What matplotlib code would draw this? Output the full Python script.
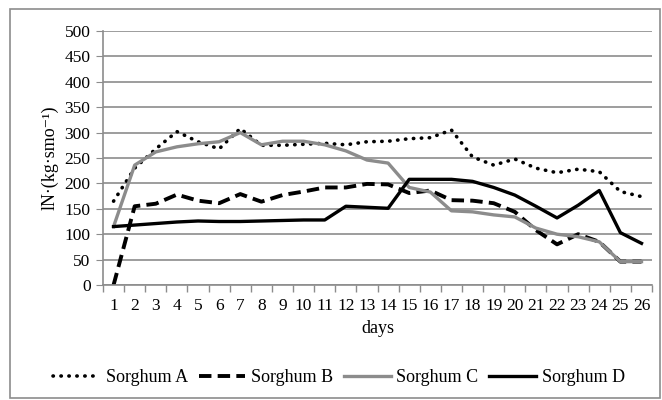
import numpy as np
import matplotlib.pyplot as plt
from matplotlib.patches import Rectangle

plt.rcParams['font.family'] = ['Liberation Serif', 'DejaVu Serif']

# data
days = list(range(1, 27))
sorghum_a = [165, 230, 268, 302, 282, 268, 308, 275, 275, 277, 279, 276, 282, 283,
             288, 290, 305, 252, 236, 248, 230, 221, 228, 223, 184, 174]
sorghum_b = [0, 155, 160, 178, 166, 161, 179, 164, 177, 184, 192, 192, 199, 198,
             181, 186, 167, 166, 161, 144, 108, 80, 100, 85, 46, 46]
sorghum_c = [115, 236, 262, 272, 278, 282, 300, 276, 283, 283, 276, 264, 246, 240,
             192, 183, 146, 144, 138, 134, 112, 100, 95, 85, 46, 46]
sorghum_d = [115, 118, 121, 124, 126, 125, 125, 126, 127, 128, 128, 155, 153, 151,
             208, 208, 208, 204, 192, 177, 155, 132, 157, 186, 103, 82]

fig = plt.figure(figsize=(6.62, 4.0), dpi=100)
ax = fig.add_axes([0.1556, 0.2875, 0.8294, 0.635])

# outer chart border
fig.patches.append(Rectangle((0.015, 0.005), 0.982, 0.972, transform=fig.transFigure,
                             fill=False, edgecolor='#8c8c8c', linewidth=1.2))

x = np.arange(len(days))
ax.plot(x, sorghum_a, color='black', lw=2.6, linestyle=(0, (0.1, 2.1)),
        dash_capstyle='round', label='Sorghum A')
ax.plot(x, sorghum_b, color='black', lw=2.8, linestyle=(0, (3.2, 1.6)),
        label='Sorghum B')
ax.plot(x, sorghum_c, color='#8c8c8c', lw=2.4, label='Sorghum C')
ax.plot(x, sorghum_d, color='black', lw=2.4, label='Sorghum D')

ax.set_xlim(-0.5, len(days) - 0.5)
ax.set_ylim(0, 500)
ax.set_yticks(range(0, 501, 50))
ax.set_xticks(x)
ax.set_xticklabels([str(d) for d in days])
ax.set_xticks(np.arange(-0.5, len(days), 1), minor=True)
ax.tick_params(axis='x', which='major', length=0, labelsize=12.5, pad=9)
ax.tick_params(axis='x', which='minor', length=5, color='#8c8c8c', width=1)
ax.tick_params(axis='y', length=5, color='#8c8c8c', labelsize=12.5, pad=4)

ax.grid(axis='y', color='#8c8c8c', lw=1.2)
ax.set_axisbelow(True)
for s in ['top', 'right']:
    ax.spines[s].set_visible(False)
for s in ['left', 'bottom']:
    ax.spines[s].set_color('#8c8c8c')
    ax.spines[s].set_linewidth(1.2)

ax.set_xlabel('days', fontsize=13, labelpad=5)
ax.set_ylabel('lN·(kg·smo⁻¹)', fontsize=13, labelpad=4)

fig.legend(loc='center', bbox_to_anchor=(0.512, 0.055), ncol=4, frameon=False,
           fontsize=13, handlelength=2.6, columnspacing=0.6, handletextpad=0.3)

fig.savefig('out.png', dpi=100)
